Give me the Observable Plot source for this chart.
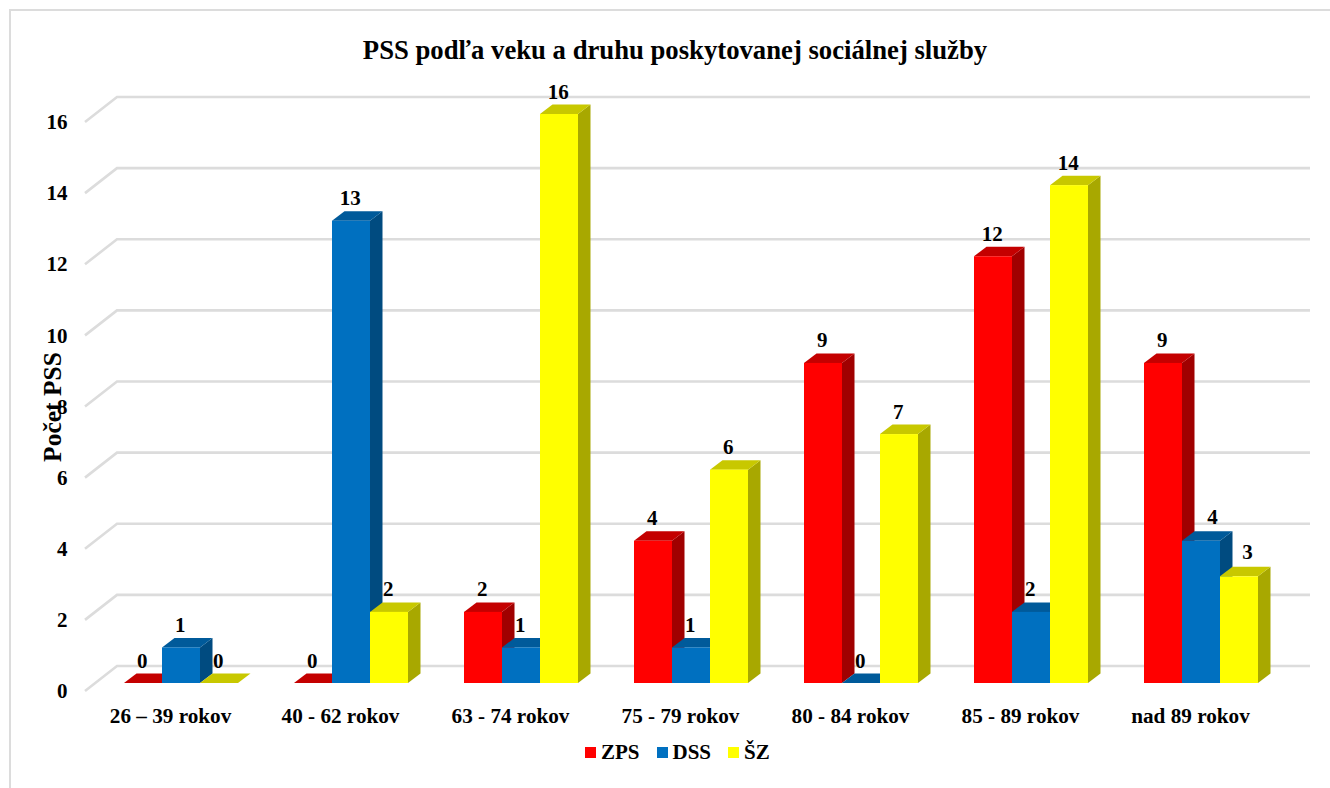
<!DOCTYPE html>
<html lang="sk">
<head>
<meta charset="utf-8">
<script src="https://cdn.jsdelivr.net/npm/d3@7"></script>
<script src="https://cdn.jsdelivr.net/npm/@observablehq/plot@0.6"></script>
<style>
  html, body { margin: 0; padding: 0; background: #fff; }
  #page { position: relative; width: 1330px; height: 788px; overflow: hidden;
          font-family: "Liberation Serif", serif; font-weight: bold; color: #000; }
  #frame { position: absolute; left: 9px; top: 9px; width: 1340px; height: 800px;
           border-left: 2.5px solid #dcdcdc; border-top: 2.5px solid #dcdcdc; box-sizing: border-box; }
  #title { position: absolute; left: 0; width: 1350px; top: 36px; text-align: center; font-size: 26.7px; line-height: 28px; }
  #chart { position: absolute; left: 0; top: 70px; }
  #legend { position: absolute; left: 585px; top: 740px; display: flex; align-items: center; font-size: 21px; line-height: 24px; }
  #legend span.sw { width: 11px; height: 11px; display: inline-block; margin-right: 5px; }
  #legend span.lb { margin-right: 17px; }
</style>
</head>
<body>
<div id="page">
  <div id="frame"></div>
  <div id="title">PSS podľa veku a druhu poskytovanej sociálnej služby</div>
  <div id="chart"></div>
  <div id="legend"></div>
</div>
<script>
const categories = ["26 – 39 rokov", "40 - 62 rokov", "63 - 74 rokov", "75 - 79 rokov", "80 - 84 rokov", "85 - 89 rokov", "nad 89 rokov"];
const seriesNames = ["ZPS", "DSS", "ŠZ"];
const zps = [0, 0, 2, 4, 9, 12, 9];
const dss = [1, 13, 1, 1, 0, 2, 4];
const sz  = [0, 2, 16, 6, 7, 14, 3];
const yTicks = [0, 2, 4, 6, 8, 10, 12, 14, 16];
const frontColors = ["#ff0000", "#0070c0", "#ffff00"];
const topColors   = ["#c40000", "#005a9a", "#c8c800"];
const sideColors  = ["#a00000", "#004b80", "#a8a800"];

const rows = categories.flatMap((c, i) => [
  {cat: c, series: seriesNames[0], value: zps[i]},
  {cat: c, series: seriesNames[1], value: dss[i]},
  {cat: c, series: seriesNames[2], value: sz[i]}
]);

// depth of the pseudo-3D drawing
const floorDx = 32, floorDy = 25;      // wall is this far behind the floor's front edge
const barOffX = 11, barOffY = 8;       // bars stand this far in from the front edge
const barDx = 12.5, barDy = 9.5;       // depth of each bar
const NS = "http://www.w3.org/2000/svg";

function poly(points, fill) {
  const p = document.createElementNS(NS, "polygon");
  p.setAttribute("points", points.map(d => d.join(",")).join(" "));
  p.setAttribute("fill", fill);
  return p;
}

// bars: front face is the library's own bar; top and side are added from the same scaled values
// (the mark's group already carries the dx/dy shift, so the added faces inherit it)
function bars3d(index, scales, values, dimensions, context, next) {
  const g = next(index, scales, values, dimensions, context);
  const rects = g.querySelectorAll("rect");
  const bw = scales.x.bandwidth();
  index.forEach((i, k) => {
    const rect = rects[k];
    const x0 = values.x[i], x1 = x0 + bw;
    const yT = Math.min(values.y1[i], values.y2[i]);
    const yB = Math.max(values.y1[i], values.y2[i]);
    const s = seriesNames.indexOf(rows[i].series);
    rect.parentNode.insertBefore(poly([[x1, yT], [x1 + barDx, yT - barDy], [x1 + barDx, yB - barDy], [x1, yB]], sideColors[s]), rect);
    rect.parentNode.insertBefore(poly([[x0, yT], [x0 + barDx, yT - barDy], [x1 + barDx, yT - barDy], [x1, yT]], topColors[s]), rect);
  });
  return g;
}

// walls: each tick runs across the floor depth and then along the back wall
function wallGrid(index, scales, values, dimensions) {
  const g = document.createElementNS(NS, "g");
  const x0 = dimensions.marginLeft;
  const band = dimensions.width - dimensions.marginLeft - dimensions.marginRight;
  const right = x0 + band * categories.length + 35;
  for (const t of yTicks) {
    const y = scales.y(t);
    const p = document.createElementNS(NS, "path");
    p.setAttribute("d", `M${x0},${y}L${x0 + floorDx},${y - floorDy}L${right},${y - floorDy}`);
    p.setAttribute("fill", "none");
    p.setAttribute("stroke", "#dcdcdc");
    p.setAttribute("stroke-width", 2.6);
    g.appendChild(p);
  }
  return g;
}

// two labels of the last group sit to the right of their bars in the original
const lastCat = categories[categories.length - 1];
const isLast = (d, s) => d.cat === lastCat && d.series === s;
const labelOpts = {fx: "cat", x: "series", y: "value", text: "value", fill: "#000", fontSize: 21, lineAnchor: "middle"};

const chart = Plot.plot({
  width: 1330,
  height: 660,
  marginLeft: 85,
  marginRight: 55,
  marginTop: 52,
  marginBottom: 39,
  style: {fontFamily: "Liberation Serif", fontWeight: "bold", background: "transparent", color: "#000", overflow: "visible"},
  x: {domain: seriesNames, paddingInner: 0, paddingOuter: 0.737, round: false, axis: null},
  y: {domain: [0, 16], axis: null},
  fx: {domain: categories, paddingInner: 0, paddingOuter: 0, round: false, axis: null},
  marks: [
    Plot.ruleY(categories.slice(0, 1), {fx: d => d, y: () => 0, render: wallGrid}),
    Plot.barY(rows, {fx: "cat", x: "series", y: "value", fill: (d) => frontColors[seriesNames.indexOf(d.series)], inset: 0, dx: barOffX, dy: -barOffY, render: bars3d}),
    Plot.text(rows.filter(d => !isLast(d, "DSS") && !isLast(d, "ŠZ")), {...labelOpts, dx: barOffX - 1.2, dy: -30.7}),
    Plot.text(rows.filter(d => isLast(d, "DSS")), {...labelOpts, dx: barOffX + 11, dy: -31.5}),
    Plot.text(rows.filter(d => isLast(d, "ŠZ")), {...labelOpts, dx: barOffX + 8, dy: -32.5}),
    Plot.axisFx({anchor: "bottom", tickSize: 0, tickPadding: 25, fontSize: 21.2, label: null, lineAnchor: "middle"}),
    Plot.axisY(yTicks, {anchor: "left", tickSize: 0, tickPadding: 18, fontSize: 21, label: null}),
    Plot.text(categories.slice(0, 1), {fx: d => d, text: () => "Počet PSS", frameAnchor: "left", textAnchor: "middle", rotate: -90, fontSize: 25.5, dx: -33, fill: "#000"})
  ]
});
document.getElementById("chart").appendChild(chart);

const legend = document.getElementById("legend");
seriesNames.forEach((n, i) => {
  const sw = document.createElement("span"); sw.className = "sw"; sw.style.background = frontColors[i];
  const lb = document.createElement("span"); lb.className = "lb"; lb.textContent = n;
  legend.append(sw, lb);
});
</script>
</body>
</html>
